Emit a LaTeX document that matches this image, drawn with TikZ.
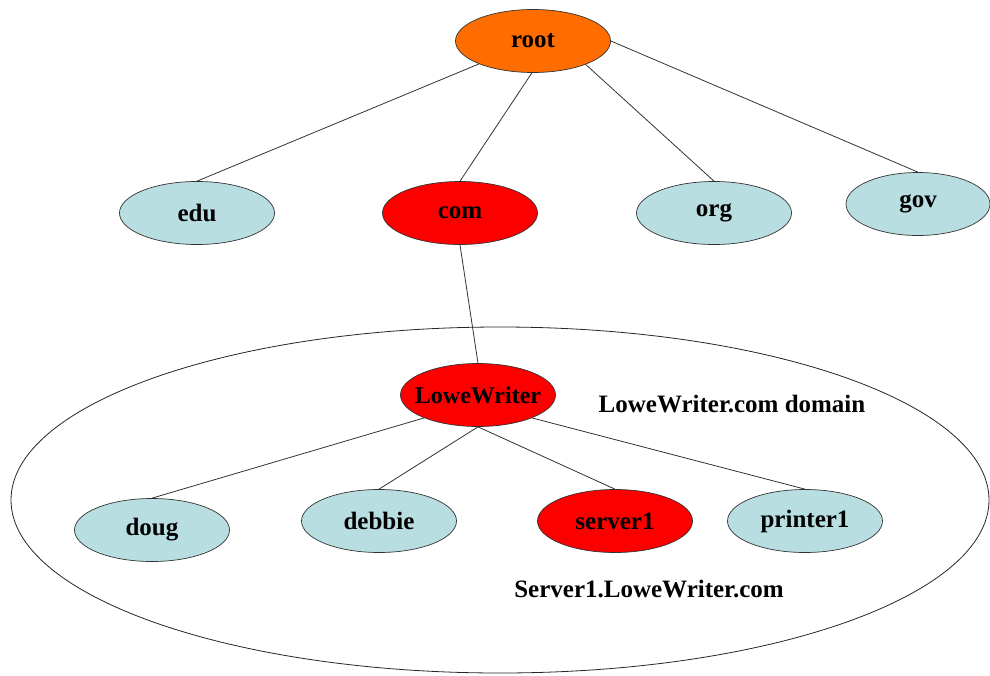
\documentclass[tikz,border=0pt]{standalone}
\usepackage{fontspec}
\setmainfont{Liberation Serif}
\usetikzlibrary{shapes.geometric}
\definecolor{rootorange}{RGB}{255,108,0}
\definecolor{hotred}{RGB}{252,0,0}
\definecolor{paleblue}{RGB}{184,222,226}
\definecolor{edgegray}{RGB}{50,50,50}
\newcommand{\nolab}[1]{\makebox[0pt]{#1}}
\tikzset{
  dnsnode/.style={ellipse, draw=black!80, line width=0.7pt, minimum width=155pt, minimum height=63pt, inner sep=0pt, font=\fontsize{25}{30}\selectfont\bfseries},
  bluenode/.style={dnsnode, fill=paleblue},
  rednode/.style={dnsnode, fill=hotred},
  orangenode/.style={dnsnode, fill=rootorange},
  link/.style={draw=edgegray, line width=0.8pt},
  caption/.style={font=\fontsize{25}{30}\selectfont\bfseries, inner sep=0pt}
}
\begin{document}
\begin{tikzpicture}[x=1pt,y=-1pt]
\useasboundingbox (0,0) rectangle (990,675);
\draw[line width=0.8pt, draw=black!85] (500,500) ellipse [x radius=489, y radius=173];
\node[orangenode] (root) at (533,41) {\nolab{root}};
\node[bluenode] (edu) at (197,213) {\nolab{edu}};
\node[rednode] (com) at (460,213) {\nolab{com}};
\node[bluenode] (org) at (714,213) {\nolab{org}};
\node[bluenode, minimum width=144pt] (gov) at (918,204) {\nolab{gov}};
\node[rednode] (lw) at (478,395) {\nolab{\fontsize{24}{29}\selectfont LoweWriter}};
\node[bluenode] (doug) at (152,530) {\nolab{doug}};
\node[bluenode] (debbie) at (379,521) {\nolab{debbie}};
\node[rednode] (server) at (615,521) {\nolab{server1}};
\node[bluenode] (printer) at (805,521) {\nolab{printer1}};
\node[caption] (domain) at (732,404) {LoweWriter.com domain};
\node[caption] (fqdn) at (649,589) {Server1.LoweWriter.com};
\draw[link] (root.203) -- (edu.north);
\draw[link] (root.268) -- (com.north);
\draw[link] (root.336) -- (org.north);
\draw[link] (root.east) -- (gov.north);
\draw[link] (com.south) -- (lw.north);
\draw[link] (lw.203) -- (doug.north);
\draw[link] (lw.south) -- (debbie.north);
\draw[link] (lw.south) -- (server.north);
\draw[link] (lw.337) -- (printer.north);
\end{tikzpicture}
\end{document}
